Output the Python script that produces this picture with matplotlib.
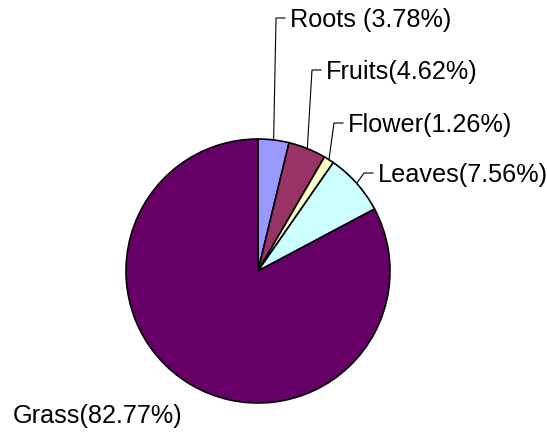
import numpy as np
import matplotlib.pyplot as plt

# plant part shares (%)
parts = ["Roots", "Fruits", "Flower", "Leaves", "Grass"]
shares = [3.78, 4.62, 1.26, 7.56, 82.77]
colors = ["#9999FF", "#993366", "#FFFFCC", "#CCFFFF", "#660066"]
gaps = [" ", "", "", "", ""]

W, H = 547, 434
fig = plt.figure(figsize=(W / 100, H / 100), dpi=100)
ax = fig.add_axes([0, 0, 1, 1])

cx, cy, r = 258, H - 271, 132
wedges, _ = ax.pie(shares, colors=colors, startangle=90, counterclock=False,
                   radius=r, center=(cx, cy),
                   wedgeprops=dict(edgecolor="black", linewidth=1.2))

ax.set_xlim(0, W)
ax.set_ylim(0, H)
ax.set_aspect("equal")
ax.axis("off")

# label spots (left x, baseline y in pixels from top)
spots = [(290, 27), (326, 79), (348, 132), (378, 182), (13, 423)]
leaders = [True, True, True, True, False]

for w, name, gap, v, (tx, ty), lead in zip(wedges, parts, gaps, shares, spots, leaders):
    ax.text(tx, H - ty, f"{name}{gap}({v:.2f}%)", family="Liberation Sans",
            fontsize=18.2, ha="left", va="baseline", color="black")
    if lead:
        mid = np.deg2rad((w.theta1 + w.theta2) / 2)
        ex, ey = cx + r * np.cos(mid), cy + r * np.sin(mid)
        ly = H - (ty - 9)
        ax.plot([ex, tx - 14, tx - 5], [ey, ly, ly], color="black", lw=0.8)

fig.savefig("out.png", dpi=100, facecolor="white")
